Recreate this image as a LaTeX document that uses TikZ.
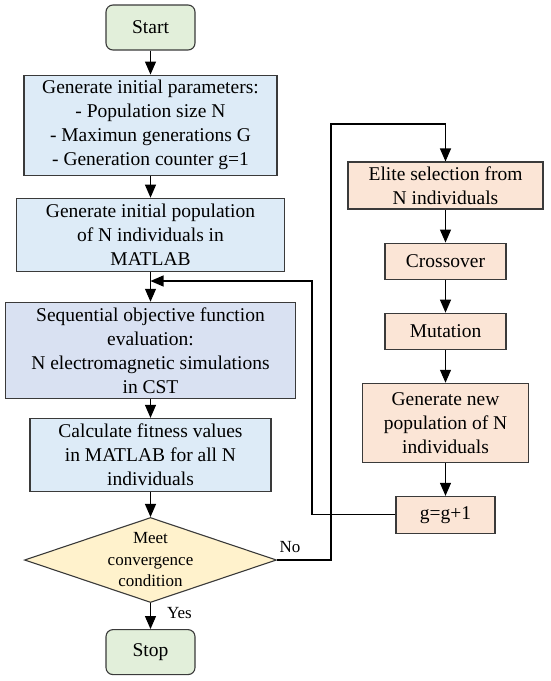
\documentclass[tikz,border=0pt]{standalone}
\usepackage{fontspec}
\setmainfont{Liberation Serif}
\usepackage{xcolor}
\usepackage{tikz}
\usetikzlibrary{arrows.meta,positioning,shapes.geometric}
\definecolor{termgreen}{HTML}{E2EFDA}
\definecolor{stepblue}{HTML}{DDEBF7}
\definecolor{evalblue}{HTML}{D9E1F2}
\definecolor{condyellow}{HTML}{FFF2CC}
\definecolor{gaorange}{HTML}{FBE5D6}
\definecolor{edgegray}{HTML}{3A3A3A}
\tikzset{
  term box/.style  = {draw=edgegray, line width=1.1pt, rounded corners=7pt,
                      fill=termgreen, minimum width=89pt, minimum height=45pt,
                      inner sep=3pt, align=center},
  stage box/.style = {draw=edgegray, line width=1.1pt, fill=stepblue,
                      inner sep=3pt, align=center},
  ga box/.style    = {draw=edgegray, line width=1.1pt, fill=gaorange,
                      inner sep=3pt, align=center},
  cond node/.style = {draw=edgegray, line width=1.1pt, diamond, aspect=2.96,
                      fill=condyellow, inner sep=-4pt, minimum width=252pt,
                      minimum height=85pt, align=center,
                      font=\fontsize{17}{21.5}\selectfont},
  lbl/.style       = {font=\fontsize{17}{21.5}\selectfont, inner sep=2pt},
  arr/.style       = {-{Triangle[length=13pt,width=11pt]}, line width=1.1pt,
                      draw=black},
}
\begin{document}
\begin{tikzpicture}[x=1pt, y=-1pt, font=\fontsize{19.5}{24}\selectfont]
  \useasboundingbox (0,0) rectangle (550,681);

  % main column
  \node[term box] (start) at (150.5,27.5) {Start};
  \node[stage box, minimum width=253pt, minimum height=100pt, below=24pt of start]
       (params) {Generate initial parameters:\\- Population size N\\
                 - Maximun generations G\\- Generation counter g=1};
  \node[stage box, minimum width=268pt, minimum height=73pt, below=22pt of params]
       (initpop) {Generate initial population\\of N individuals in\\MATLAB};
  \node[stage box, fill=evalblue, minimum width=290pt, minimum height=96pt,
        below=30pt of initpop]
       (evalsim) {Sequential objective function\\evaluation:\\
                  N electromagnetic simulations\\in CST};
  \node[stage box, minimum width=241pt, minimum height=73pt, below=19pt of evalsim]
       (fitness) {Calculate fitness values\\in MATLAB for all N\\individuals};
  \node[cond node, below=25pt of fitness] (conv) {Meet\\convergence\\condition};
  \node[term box, below=26pt of conv] (stop) {Stop};

  % GA column
  \node[ga box, minimum width=195pt, minimum height=47pt] (elite) at (445.5,185.5)
       {Elite selection from\\N individuals};
  \node[ga box, minimum width=121pt, minimum height=36pt, below=33pt of elite]
       (cross) {Crossover};
  \node[ga box, minimum width=121pt, minimum height=36pt, below=33pt of cross]
       (mutate) {Mutation};
  \node[ga box, minimum width=166pt, minimum height=79pt, below=33pt of mutate]
       (newpop) {Generate new\\population of N\\individuals};
  \node[ga box, minimum width=99pt, minimum height=37pt, below=33pt of newpop]
       (incr) {g=g+1};

  \coordinate (nocorner) at (331,124);
  \coordinate (backx) at (312,281);

  \draw[arr] (start) -- (params);
  \draw[arr] (params) -- (initpop);
  \draw[arr] (initpop) -- (evalsim);
  \draw[arr] (evalsim) -- (fitness);
  \draw[arr] (fitness) -- (conv);
  \draw[arr] (conv) -- node[lbl, anchor=west, xshift=14pt, yshift=3pt] {Yes} (stop);

  \draw[arr] (elite) -- (cross);
  \draw[arr] (cross) -- (mutate);
  \draw[arr] (mutate) -- (newpop);
  \draw[arr] (newpop) -- (incr);

  \draw[arr] (conv.east) node[lbl, anchor=south west, yshift=5pt] {No}
             -| (nocorner) -| (elite.north);
  \draw[arr] (incr.west) -| (backx) -- (initpop.south |- backx);
\end{tikzpicture}
\end{document}
